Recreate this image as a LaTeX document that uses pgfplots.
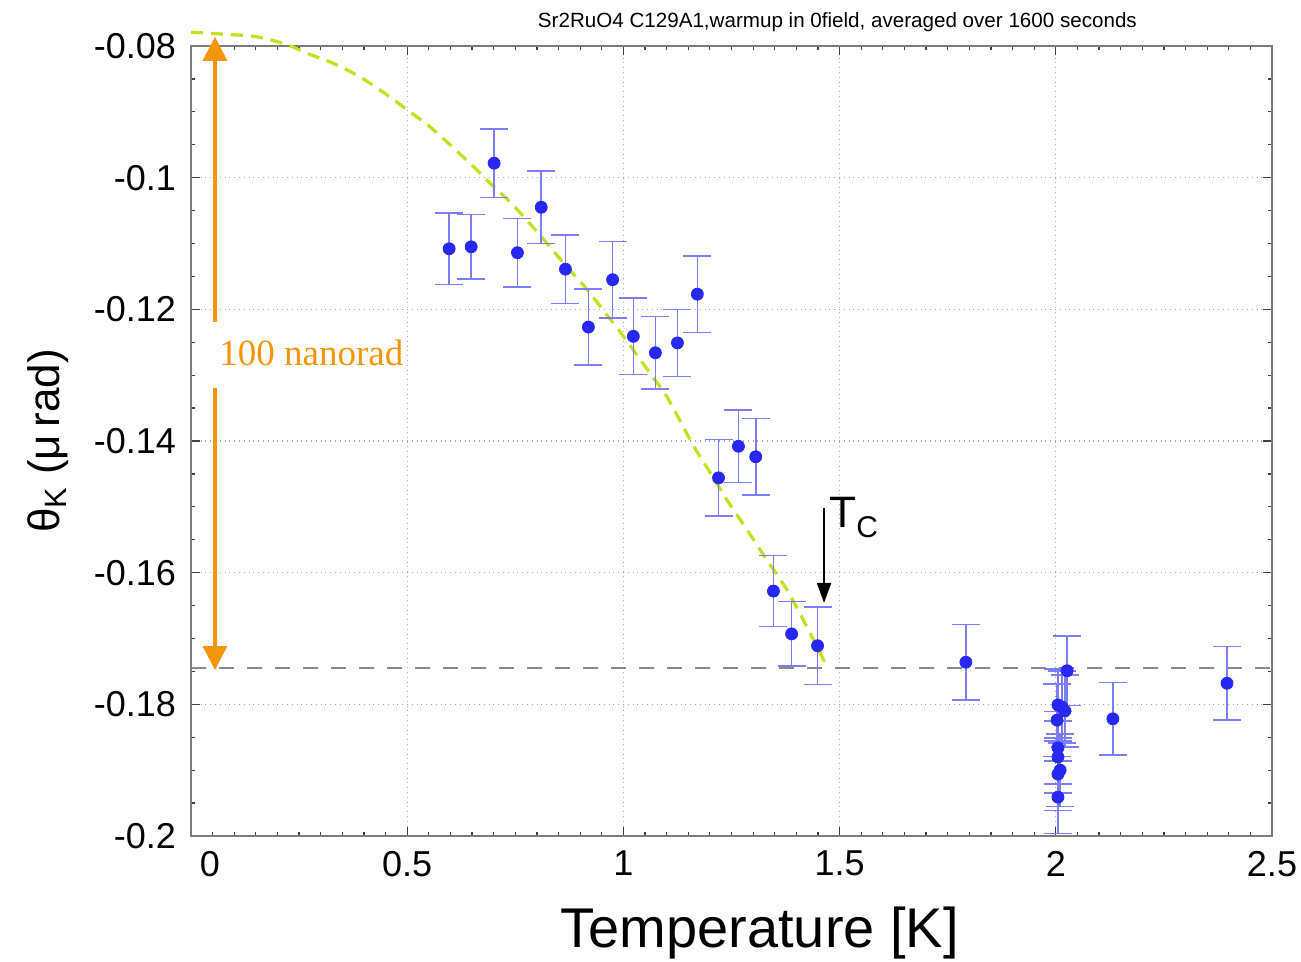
\documentclass[border=0pt]{standalone}
\usepackage{pgfplots}
\pgfplotsset{compat=1.18}
\usepackage{pgfplotstable}
\usepackage{fontspec}
\setmainfont{Liberation Sans}
\newfontfamily\serifo{Liberation Serif}
\usetikzlibrary{arrows.meta}

\definecolor{ptblue}{RGB}{40,40,245}
\definecolor{errblue}{RGB}{125,125,245}
\definecolor{fitgreen}{RGB}{195,225,30}
\definecolor{annorange}{RGB}{245,150,10}
\definecolor{framegray}{RGB}{125,125,125}

\pgfplotstableread{
x y e
0.597 -0.1108 0.0054
0.648 -0.1105 0.0049
0.701 -0.0978 0.0052
0.755 -0.1114 0.0052
0.810 -0.1045 0.0055
0.866 -0.1139 0.0052
0.919 -0.1227 0.0058
0.975 -0.1155 0.0058
1.023 -0.1241 0.0058
1.074 -0.1266 0.0055
1.125 -0.1251 0.0051
1.171 -0.1177 0.0058
1.220 -0.1456 0.0058
1.266 -0.1408 0.0055
1.306 -0.1424 0.0058
1.347 -0.1628 0.0054
1.389 -0.1693 0.0049
1.449 -0.1711 0.0059
1.792 -0.1736 0.0057
2.132 -0.1822 0.0055
2.396 -0.1768 0.0056
2.026 -0.1749 0.0053
2.005 -0.1801 0.0055
2.014 -0.1804 0.0055
2.021 -0.1810 0.0055
2.003 -0.1824 0.0055
2.005 -0.1866 0.0055
2.005 -0.1880 0.0055
2.010 -0.1900 0.0055
2.005 -0.1906 0.0055
2.005 -0.1941 0.0055
}\datatable

\pgfplotstableread{
x y
0.000 -0.0779
0.074 -0.0782
0.153 -0.0786
0.222 -0.0798
0.268 -0.0811
0.328 -0.0826
0.391 -0.0847
0.444 -0.0870
0.500 -0.0897
0.553 -0.0923
0.599 -0.0950
0.645 -0.0978
0.691 -0.1008
0.738 -0.1037
0.784 -0.1070
0.826 -0.1102
0.870 -0.1136
0.911 -0.1166
0.953 -0.1201
0.992 -0.1234
1.031 -0.1269
1.068 -0.1303
1.101 -0.1333
1.161 -0.1406
1.200 -0.1447
1.240 -0.1490
1.286 -0.1535
1.332 -0.1581
1.378 -0.1626
1.425 -0.1683
1.471 -0.1743
}\fittable

\begin{document}
\begin{tikzpicture}
\begin{axis}[
  scale only axis,
  width=540.5pt, height=395pt,
  xmin=0, xmax=2.5, ymin=-0.2, ymax=-0.08,
  clip=false,
  axis line style={framegray, line width=1pt},
  xtick={0,0.5,1,1.5,2,2.5},
  xticklabels={\hspace*{19pt}0,0.5,1,1.5,2,2.5},
  ytick={-0.2,-0.18,-0.16,-0.14,-0.12,-0.1,-0.08},
  yticklabels={-0.2,-0.18,-0.16,-0.14,-0.12,-0.1,-0.08},
  minor x tick num=9,
  minor y tick num=3,
  tick align=inside,
  major tick length=4.5pt,
  minor tick length=2.2pt,
  tick style={black!75, line width=0.6pt},
  grid=major,
  major grid style={gray!70, dotted, line width=0.6pt},
  ticklabel style={font=\fontsize{18}{18}\selectfont},
  xticklabel style={yshift=-4pt},
  yticklabel style={xshift=-4pt},
  xlabel={Temperature [K]},
  xlabel style={font=\fontsize{28}{28}\selectfont, at={(axis description cs:0.526,0)}, anchor=base, yshift=-56pt},
  ylabel={θ\textsubscript{K} (μ\,rad)},
  ylabel style={font=\fontsize{22}{22}\selectfont, at={(axis description cs:0,0.5)}, anchor=center, yshift=71.5pt},
  title={Sr2RuO4 C129A1,warmup in 0field, averaged over 1600 seconds},
  title style={font=\fontsize{10.3}{10.3}\selectfont, at={(axis description cs:0.598,1)}, anchor=center, yshift=6pt},
]
% reference level
\addplot[framegray!90, line width=0.8pt, dash pattern=on 7.5pt off 6.5pt] coordinates {(0,-0.1745) (2.5,-0.1745)};
% fit curve
\addplot[fitgreen, line width=1.6pt, dash pattern=on 6pt off 4pt, smooth] table[x=x,y=y]{\fittable};
% data
\addplot[only marks, mark=*, mark size=3pt, mark options={fill=ptblue, draw=ptblue},
  error bars/.cd, y dir=both, y explicit,
  error bar style={errblue, line width=0.8pt},
  error mark options={errblue, rotate=90, mark size=7pt, line width=0.8pt}]
  table[x=x,y=y,y error=e]{\datatable};
% orange 100 nanorad arrow
\draw[annorange, line width=1.6pt, -{Triangle[width=12pt,length=12pt]}] (axis cs:0.0555,-0.1219) -- (axis cs:0.0555,-0.0786);
\draw[annorange, line width=1.6pt, -{Triangle[width=12pt,length=12pt]}] (axis cs:0.0555,-0.1320) -- (axis cs:0.0555,-0.1748);
\node[anchor=base west, inner sep=0pt, text=annorange, font=\serifo\fontsize{18.5}{18.5}\selectfont] at (axis cs:0.0648,-0.1286) {100 nanorad};
% Tc arrow
\draw[black, line width=1pt, -{Triangle[width=7pt,length=10pt]}] (axis cs:1.464,-0.1502) -- (axis cs:1.464,-0.1646);
\node[anchor=base west, inner sep=0pt, font=\fontsize{22}{22}\selectfont] at (axis cs:1.4755,-0.1531) {T\raisebox{-5pt}{\fontsize{15}{15}\selectfont C}};
\coordinate (SW) at (rel axis cs:0,0);
\coordinate (NE) at (rel axis cs:1,1);
\end{axis}
\pgfresetboundingbox
\path[use as bounding box] ([shift={(-95.5pt,-63pt)}]SW) rectangle ([shift={(14.5pt,23pt)}]NE);
\end{tikzpicture}
\end{document}
